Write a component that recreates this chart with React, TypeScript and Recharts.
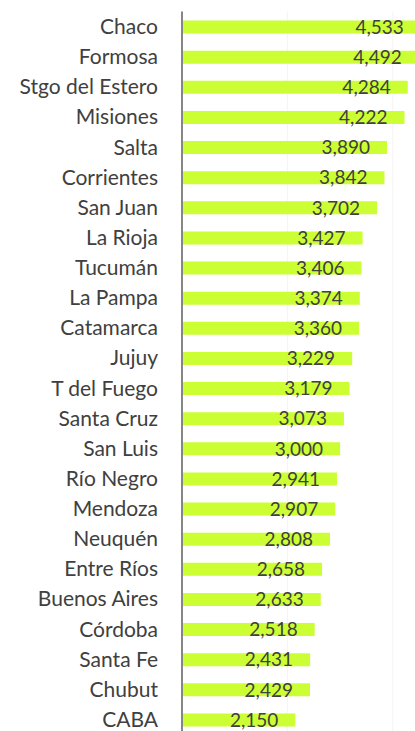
import { Bar, BarChart, CartesianGrid, LabelList, XAxis, YAxis } from "recharts";

const provinces = [
  "Chaco",
  "Formosa",
  "Stgo del Estero",
  "Misiones",
  "Salta",
  "Corrientes",
  "San Juan",
  "La Rioja",
  "Tucumán",
  "La Pampa",
  "Catamarca",
  "Jujuy",
  "T del Fuego",
  "Santa Cruz",
  "San Luis",
  "Río Negro",
  "Mendoza",
  "Neuquén",
  "Entre Ríos",
  "Buenos Aires",
  "Córdoba",
  "Santa Fe",
  "Chubut",
  "CABA",
];

const values = [
  4533, 4492, 4284, 4222, 3890, 3842, 3702, 3427, 3406, 3374, 3360, 3229, 3179, 3073, 3000, 2941,
  2907, 2808, 2658, 2633, 2518, 2431, 2429, 2150,
];

const gridTicks = [0, 2000, 4000];

const data = provinces.map((name, i) => ({ name, value: values[i] }));

const fmt = (v: number) => v.toLocaleString("en-US");

export default function App() {
  return (
    <div
      style={{
        position: "absolute",
        left: 0,
        top: 0,
        width: 415,
        height: 731,
        overflow: "hidden",
        background: "#fff",
        fontFamily: "Lato, sans-serif",
      }}
    >
      <BarChart
        width={460}
        height={750}
        data={data}
        layout="vertical"
        margin={{ top: 11.5, right: 14.5, bottom: 15.4, left: 0 }}
      >
        <CartesianGrid horizontal={false} stroke="#f4f4f4" />
        <XAxis type="number" domain={[0, 5000]} ticks={gridTicks} hide />
        <YAxis
          type="category"
          dataKey="name"
          width={182}
          axisLine={{ stroke: "#868686", strokeWidth: 2 }}
          tickLine={false}
          tickSize={0}
          tickMargin={24}
          interval={0}
          tick={{ fill: "#404040", fontSize: 21 }}
        />
        <Bar dataKey="value" fill="#ccff33" barSize={13} isAnimationActive={false}>
          <LabelList
            dataKey="value"
            position="insideRight"
            offset={17}
            formatter={(v: number) => fmt(v)}
            style={{ fill: "#404040", fontSize: 19 }}
          />
        </Bar>
      </BarChart>
    </div>
  );
}
